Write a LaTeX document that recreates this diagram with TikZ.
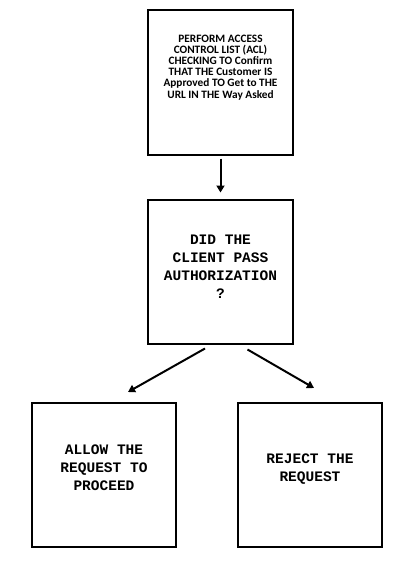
\documentclass[tikz,border=0pt]{standalone}
\usepackage{fontspec}
\newfontfamily\aclfont{Carlito}
\newfontfamily\monofont{Liberation Mono}
\usepackage{tikz}
\usetikzlibrary{arrows.meta}

\begin{document}
\begin{tikzpicture}[x=1pt,y=-1pt,
  boxx/.style={draw=black,line width=2pt,minimum width=145pt,minimum height=144pt,inner sep=0pt},
  acltext/.style={font=\aclfont\bfseries\fontsize{11.3}{11.1}\selectfont,align=center,inner sep=0pt},
  monotext/.style={font=\monofont\bfseries\fontsize{14.5}{18}\selectfont,align=center,inner sep=0pt},
  arr/.style={line width=2pt,-{Triangle[length=7pt,width=8pt]}}]

\useasboundingbox (0,0) rectangle (415,583);

\node[boxx] (acl) at (220.5,82.5) {};
\node[acltext] (acllabel) at ([yshift=15pt]acl.center) {PERFORM ACCESS\\CONTROL LIST (ACL)\\CHECKING TO Confirm\\THAT THE Customer IS\\Approved TO Get to THE\\URL IN THE Way Asked};

\node[boxx] (pass) at (220.5,271.5) {};
\node[monotext] (passlabel) at ([yshift=5pt]pass.center) {DID THE\\CLIENT PASS\\AUTHORIZATION\\?};

\node[boxx,minimum width=144pt] (allow) at (104,475) {};
\node[monotext] (allowlabel) at ([yshift=7pt]allow.center) {ALLOW THE\\REQUEST TO\\PROCEED};

\node[boxx,minimum width=144pt] (reject) at (310,475) {};
\node[monotext] (rejectlabel) at ([yshift=6pt]reject.center) {REJECT THE\\REQUEST};

\draw[arr] ([yshift=-3pt]acl.south) -- ([yshift=6pt]pass.north);
\draw[arr] ([xshift=-15.5pt,yshift=-4pt]pass.south) -- ([xshift=24pt,yshift=10pt]allow.north);
\draw[arr] ([xshift=27pt,yshift=-5pt]pass.south) -- ([xshift=4pt,yshift=14pt]reject.north);

\end{tikzpicture}
\end{document}
